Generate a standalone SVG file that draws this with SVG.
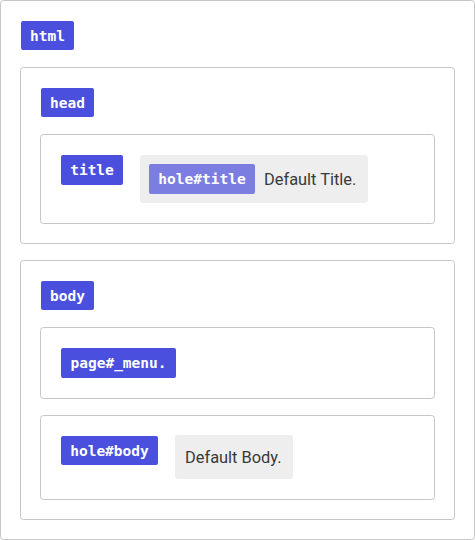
<svg xmlns="http://www.w3.org/2000/svg" width="475" height="540" viewBox="0 0 475 540">
<style>
.box{fill:#fff;stroke:#c6c6c6;stroke-width:1}
.tag{fill:#4a50dd}
.tag2{fill:#7b7ee0}
.gray{fill:#eeeeee}
.lt{font-family:"DejaVu Sans Mono","Liberation Mono",monospace;font-weight:bold;font-size:14.5px;fill:#fff;text-anchor:middle}
.tx{font-family:Roboto,"Liberation Sans",sans-serif;font-size:16.4px;fill:#3a3a3a}
</style>
<rect width="475" height="540" fill="#fff"/>
<g id="html">
<rect class="box" x="0.5" y="0.5" width="474" height="539" rx="3"/>
<rect class="tag" x="21" y="21" width="53" height="29" rx="2"/>
<text class="lt" x="47.5" y="40.5">html</text>
</g>
<g id="head">
<rect class="box" x="20.5" y="67.5" width="434" height="176" rx="3"/>
<rect class="tag" x="41" y="88" width="53" height="29" rx="2"/>
<text class="lt" x="67.5" y="107.5">head</text>
</g>
<g id="title">
<rect class="box" x="40.5" y="134.5" width="394" height="89" rx="3"/>
<rect class="tag" x="61" y="155" width="62" height="30" rx="2"/>
<text class="lt" x="92" y="175">title</text>
</g>
<g id="hole-title">
<rect class="gray" x="140" y="155" width="228" height="48" rx="3"/>
<rect class="tag2" x="149" y="164" width="106" height="30" rx="2"/>
<text class="lt" x="202" y="184">hole#title</text>
<text class="tx" x="264" y="185">Default Title.</text>
</g>
<g id="body">
<rect class="box" x="20.5" y="260.5" width="434" height="259" rx="3"/>
<rect class="tag" x="41" y="281" width="53" height="29" rx="2"/>
<text class="lt" x="67.5" y="300.5">body</text>
</g>
<g id="page-menu">
<rect class="box" x="40.5" y="327.5" width="394" height="71" rx="3"/>
<rect class="tag" x="61" y="348" width="115" height="30" rx="2"/>
<text class="lt" x="118.5" y="368">page#_menu.</text>
</g>
<g id="hole-body">
<rect class="box" x="40.5" y="415.5" width="394" height="84" rx="3"/>
<rect class="tag" x="61" y="436" width="97" height="29" rx="2"/>
<text class="lt" x="109.5" y="455.5">hole#body</text>
<rect class="gray" x="175" y="435" width="118" height="44" rx="3"/>
<text class="tx" x="185" y="463">Default Body.</text>
</g>
<g id="connectors"/>
</svg>
